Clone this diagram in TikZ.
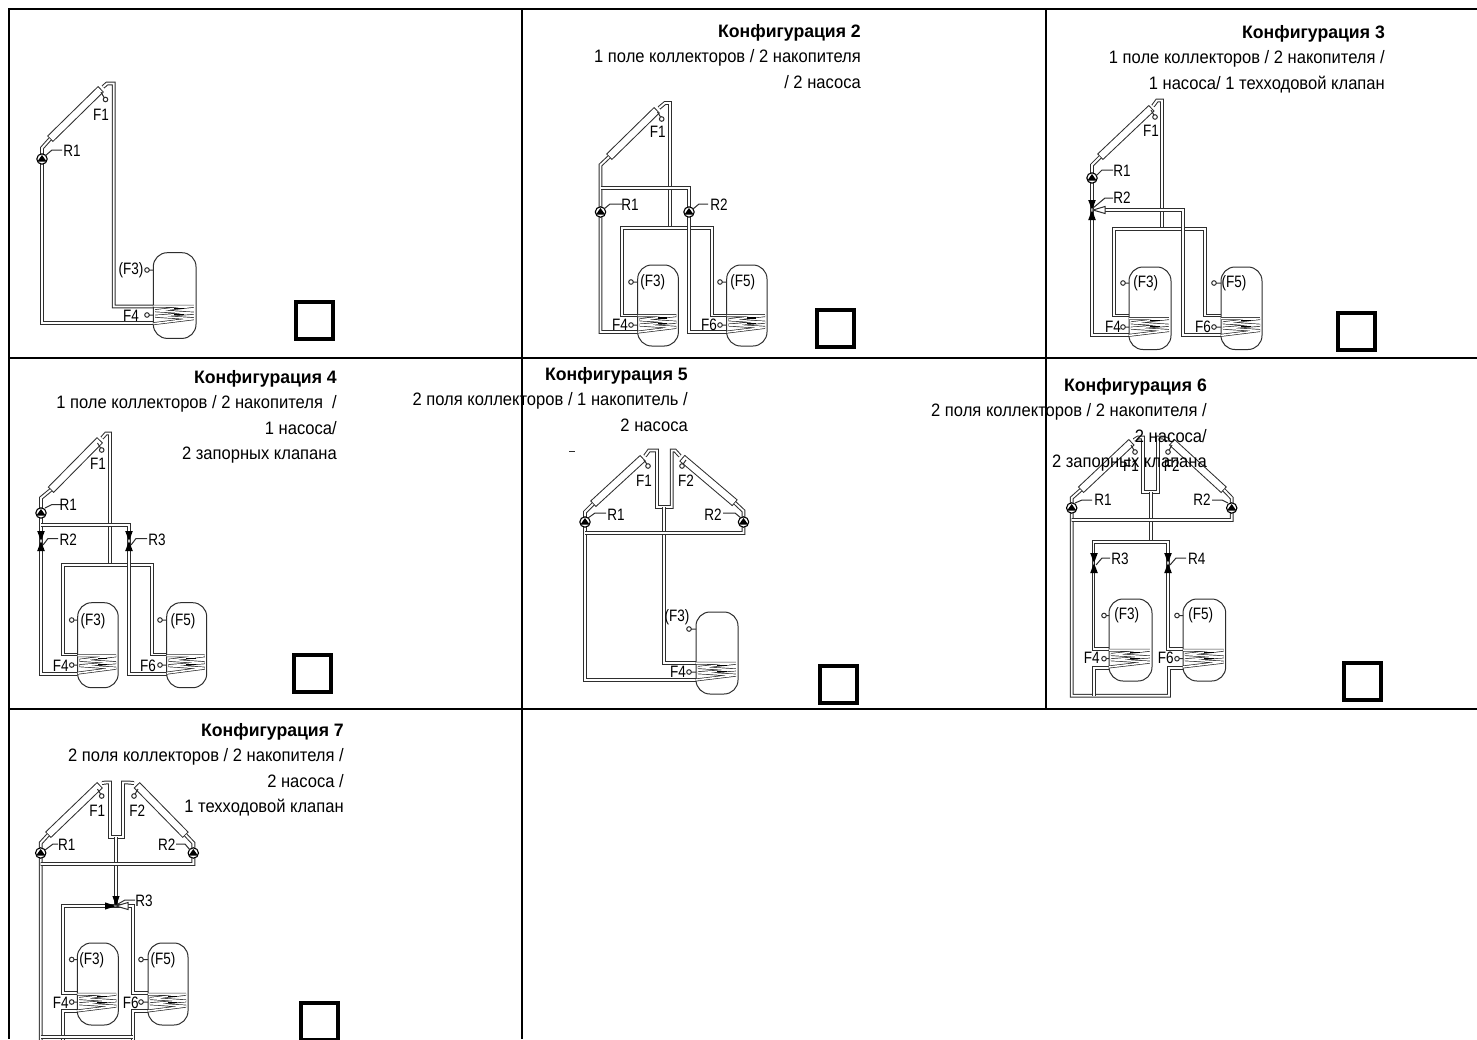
\documentclass[tikz,border=0pt]{standalone}
\usepackage{fontspec}
\setmainfont[FakeStretch=0.92,BoldFeatures={FakeStretch=0.98}]{Liberation Sans}
\usetikzlibrary{calc}
\definecolor{pipec}{HTML}{2E2E2E}
\tikzset{
 pipe/.style={draw=pipec,line width=1pt,double=white,double distance=1.9pt,line join=miter},
 coilpipe/.style={draw=pipec,line width=0.7pt,double=white,double distance=1.5pt,line join=bevel},
 thin line/.style={draw=pipec,line width=1pt},
 lbl/.style={inner sep=0pt,font=\fontsize{16.5}{16.5}\selectfont\addfontfeature{FakeStretch=0.82}},
 head/.style={anchor=north east,align=right,inner sep=0pt,font=\fontsize{18}{25.4}\selectfont},
 grid/.style={draw=black,line width=2pt},
 box/.style={draw=black,line width=4pt},
}
\newcount\nn
\newcommand\lab[3]{\global\advance\nn by 1 \node[lbl] (n\the\nn) at (#1,#2) {#3};}
% tank: x y w h
\newcommand\tank[4]{%
 \draw[thin line,rounded corners=14pt] (#1,#2) rectangle ++(#3,#4);
 \begin{scope}[shift={(#1,#2)},xscale=#3/42.7,yscale=#4/85.7]
 \draw[coilpipe] (0,53.5)--(40.5,53.5)--(2,58)--(40.5,60.5)--(2,63.5)--(40.5,66)--(0,71);
 \fill[black] (21,55.4) rectangle (31,56.6);
 \fill[black] (21,61.4) rectangle (31,62.6);
 \end{scope}}
% sensor: x y x2
\newcommand\sens[3]{\draw[thin line] (#1,#2) circle (2.3pt) (#1+2.3,#2)--(#3,#2);}
% collector: low x y, high x y
\newcommand\coll[4]{%
 \coordinate (ca) at (#1,#2); \coordinate (cb) at (#3,#4);
 \draw[line width=8.4pt,pipec] (ca)--(cb);
 \draw[line width=6.4pt,white] ($(ca)!1pt!(cb)$)--($(cb)!1pt!(ca)$);}
\newcommand\pump[2]{%
 \draw[line width=1.1pt,fill=white] (#1,#2) circle (5.2pt);
 \fill[black] (#1-4.6,#2+2.5)--(#1+4.6,#2+2.5)--(#1,#2-4)--cycle;}
\newcommand\vvalve[2]{%
 \fill[black] (#1-3.8,#2-10)--(#1+3.8,#2-10)--(#1,#2)--cycle;
 \fill[black] (#1-3.8,#2+10)--(#1+3.8,#2+10)--(#1,#2)--cycle;}
\newcommand\sensline[6]{\draw[thin line] (#1,#2)--(#3,#4)--(#5,#6);}
\newcommand\sq[2]{\draw[box] (#1,#2) rectangle ++(37,37);}
\begin{document}
\begin{tikzpicture}[x=1pt,y=-1pt]
\useasboundingbox (0,0) rectangle (1477,1039);
\clip (0,0) rectangle (1477,1039);
\fill[white] (0,0) rectangle (1477,1039);
% table
\draw[grid] (1477,9)--(9,9)--(9,1039);
\draw[grid] (9,358)--(1477,358);
\draw[grid] (9,709)--(1477,709);
\draw[grid] (522,9)--(522,1039);
\draw[grid] (1046,9)--(1046,709);

% ---- panel 1
\coll{50}{139}{101}{89}
\draw[pipe] (103,87)--(107,83.5)--(113.7,83.5)--(113.7,306.5)--(153.3,306.5);
\draw[pipe] (50,139)--(42,148)--(42,323)--(153.3,323);
\pump{42}{159}
\tank{153.3}{252.7}{42.7}{85.7}
\sens{147}{270}{153.3}\sens{147}{315}{153.3}
\draw[thin line] (105.5,99.5) circle (2.3pt) (101,92)--(104.2,97.8);
\sensline{45}{156}{52}{150}{62}{150}
\lab{101}{115}{F1}\lab{72}{151}{R1}\lab{131}{270}{(F3)}\lab{131}{316}{F4}
\sq{296}{302}

% ---- panel 2
\node[head] (h2) at (861,24) {\textbf{Конфигурация 2}\\1 поле коллекторов / 2 накопителя\\/ 2 насоса};
\coll{609}{157}{657}{110}
\draw[pipe] (659,108)--(665,103)--(670,103)--(670,228);
\draw[pipe] (637.7,315.5)--(622,315.5)--(622,228)--(712,228)--(712,315.5)--(726.7,315.5);
\draw[pipe] (609,157)--(600.5,165)--(600.5,332)--(637.7,332);
\draw[pipe] (600.5,188)--(689,188)--(689,332)--(726.7,332);
\pump{600.5}{212}\pump{689}{212}
\tank{637.7}{265}{40.7}{81}\tank{726.7}{265}{40.3}{81}
\sens{631}{282}{637.7}\sens{720}{282}{726.7}\sens{631}{325}{637.7}\sens{720}{325}{726.7}
\draw[thin line] (661.7,119) circle (2.3pt) (657.5,112)--(660.7,117.2);
\sensline{604}{209}{610}{204}{622}{204}
\sensline{693}{209}{699}{204}{708}{204}
\lab{657.7}{132}{F1}\lab{630}{205}{R1}\lab{719}{205}{R2}\lab{652.7}{282}{(F3)}\lab{742.7}{282}{(F5)}\lab{620}{325}{F4}\lab{709}{325}{F6}
\sq{817}{310}

% ---- panel 3
\node[head] (h3) at (1385,25) {\textbf{Конфигурация 3}\\1 поле коллекторов / 2 накопителя /\\1 насоса/ 1 техходовой клапан};
\coll{1100}{157}{1151.7}{108}
\draw[pipe] (1153,106)--(1157,100.5)--(1162,100.5)--(1162,228);
\draw[pipe] (1129,315.5)--(1114,315.5)--(1114,229)--(1205,229)--(1205,315.5)--(1221,315.5);
\draw[pipe] (1100,157)--(1092,165)--(1092,335)--(1129,335);
\draw[pipe] (1100,210)--(1183,210)--(1183,335)--(1221,335);
\pump{1092}{178}\vvalve{1092}{210}
\draw[thin line,fill=white] (1105,206.5)--(1105,213.5)--(1093,210)--cycle;
\tank{1129}{267}{42}{82.5}\tank{1221}{267}{41}{82.5}
\sens{1123}{283}{1129}\sens{1214}{283}{1221}\sens{1123}{327}{1129}\sens{1214}{327}{1221}
\draw[thin line] (1155,117) circle (2.3pt) (1151,110)--(1154,115.2);
\sensline{1096}{176}{1102}{170}{1113}{170}
\sensline{1093}{208}{1105}{198}{1113}{198}
\lab{1151}{131}{F1}\lab{1122}{171}{R1}\lab{1122}{198}{R2}\lab{1145.7}{283}{(F3)}\lab{1234}{283}{(F5)}\lab{1113}{327}{F4}\lab{1203}{327}{F6}
\sq{1338}{313}

% ---- panel 4
\node[head] (h4) at (337,370) {\textbf{Конфигурация 4}\\1 поле коллекторов / 2 накопителя\ \ /\\1 насоса/\\2 запорных клапана};
\coll{50.7}{490}{100}{440}
\draw[pipe] (102,438)--(106,433.5)--(110,433.5)--(110,565);
\draw[pipe] (77.7,654.5)--(62.7,654.5)--(62.7,565)--(152,565)--(152,654.5)--(166.7,654.5);
\draw[pipe] (50.7,490)--(41,498)--(41,674)--(77.7,674);
\draw[pipe] (41,525)--(129,525)--(129,674)--(166.7,674);
\pump{41}{513}\vvalve{41}{541}\vvalve{129}{541}
\tank{77.7}{602.7}{40.5}{85}\tank{166.7}{602.7}{40}{85}
\sens{71.7}{620}{77.7}\sens{160}{620}{166.7}\sens{71.7}{665}{77.7}\sens{160}{665}{166.7}
\draw[thin line] (101.7,450) circle (2.3pt) (97.5,443)--(100.7,448.2);
\sensline{45}{508}{52}{504.5}{61}{504.5}
\sensline{43}{545}{48}{538.5}{58}{538.5}
\sensline{131}{545}{136}{538.5}{147}{538.5}
\lab{98}{464}{F1}\lab{68.3}{505}{R1}\lab{68.3}{540}{R2}\lab{157}{540}{R3}\lab{93}{621}{(F3)}\lab{183}{621}{(F5)}\lab{60.7}{666}{F4}\lab{148}{666}{F6}
\sq{293.5}{654.5}

% ---- panel 5
\node[head] (h5) at (688,367) {\textbf{Конфигурация 5}\\2 поля коллекторов / 1 накопитель /\\2 насоса};
\draw[thin line] (569,451)--(575,451);
\coll{593}{504}{643}{458}
\coll{735}{503}{682}{458}
\draw[pipe] (645,456)--(649,450.5)--(657,450.5)--(657,507)--(671.7,507)--(671.7,450.5)--(675,450.5)--(680,456);
\draw[pipe] (664,507)--(664,663)--(696,663);
\draw[pipe] (593,504)--(585,512)--(585,680)--(696,680);
\draw[pipe] (735,503)--(743.5,511)--(743.5,533)--(585,533);
\pump{585}{522}\pump{743.5}{522}
\tank{696}{612}{42}{82}
\sens{689}{629}{696}\sens{689}{672}{696}
\draw[thin line] (648,466) circle (2.3pt) (644,460)--(647,464.2);
\draw[thin line] (682,466) circle (2.3pt) (686,460)--(683,464.2);
\sensline{588}{518}{595}{513}{606}{513}
\sensline{741}{518}{735}{513}{723}{513}
\lab{644}{481}{F1}\lab{686}{481}{F2}\lab{616}{515}{R1}\lab{713}{515}{R2}\lab{677}{617}{(F3)}\lab{678}{672}{F4}
\sq{820}{665.5}

% ---- panel 6
\coll{1080.7}{490}{1131.7}{442}
\coll{1224}{490}{1171.7}{442}
\draw[pipe] (1134,440)--(1138,437.5)--(1143,437.5)--(1143,492)--(1158,492)--(1158,437.5)--(1163,437.5)--(1169,440);
\draw[pipe] (1150.7,492)--(1150.7,542);
\draw[pipe] (1109,649)--(1093.5,649)--(1093.5,542)--(1167.7,542)--(1167.7,649)--(1183,649);
\draw[pipe] (1080.7,490)--(1071.7,498)--(1071.7,695.7)--(1169,695.7)--(1169,668)--(1183,668);
\draw[pipe] (1224,490)--(1231.7,498)--(1231.7,520)--(1071.7,520);
\draw[pipe] (1094,695.7)--(1094,668)--(1109,668);
\pump{1071.7}{508}\pump{1231.7}{508}
\vvalve{1094}{563}\vvalve{1168}{563}
\tank{1109}{599}{43}{82}\tank{1183}{599}{42.7}{82}
\sens{1104}{615.5}{1109}\sens{1177}{615.5}{1183}\sens{1104}{658.7}{1109}\sens{1177}{658.7}{1183}
\draw[thin line] (1135,452) circle (2.3pt) (1131,445)--(1134,450.2);
\draw[thin line] (1168,452) circle (2.3pt) (1172,445)--(1169,450.2);
\sensline{1075}{503}{1082}{500}{1092}{500}
\sensline{1228}{503}{1222}{500}{1212}{500}
\sensline{1096}{565}{1102}{558}{1110}{558}
\sensline{1170}{565}{1176}{558}{1186}{558}
\lab{1131}{466}{F1}\lab{1171.7}{466}{F2}\lab{1103}{500}{R1}\lab{1202}{500}{R2}\lab{1120}{559}{R3}\lab{1196.7}{559}{R4}\lab{1126.7}{615}{(F3)}\lab{1200.7}{615}{(F5)}\lab{1091.7}{658}{F4}\lab{1165.7}{658}{F6}
\node[head] (h6) at (1207,378) {\textbf{Конфигурация 6}\\2 поля коллекторов / 2 накопителя /\\2 насоса/\\2 запорных клапана};
\sq{1344}{663}

% ---- panel 7
\node[head] (h7) at (344,723) {\textbf{Конфигурация 7}\\2 поля коллекторов / 2 накопителя /\\2 насоса /\\1 техходовой клапан};
\coll{48}{835}{100}{785}
\coll{185.7}{835}{136.7}{785}
\draw[pipe] (102,783)--(106,782.5)--(110,782.5)--(110,837)--(123,837)--(123,782.5)--(128,782.5)--(134,783);
\draw[pipe] (116,837)--(116,906);
\draw[pipe] (48,835)--(40.7,843)--(40.7,1045);
\draw[pipe] (185.7,835)--(193.3,843)--(193.3,864)--(40.7,864);
\draw[pipe] (116,906)--(62.7,906)--(62.7,993)--(77.3,993);
\draw[pipe] (116,906)--(132.7,906)--(132.7,993)--(148,993);
\draw[pipe] (77.3,1011)--(62.7,1011)--(62.7,1045);
\draw[pipe] (148,1011)--(132.7,1011)--(132.7,1045);
\draw[pipe] (40.7,1037)--(132.7,1037);
\pump{40.7}{853}\pump{193.3}{853}
\fill[black] (112.4,896)--(119.6,896)--(116,906)--cycle;
\fill[black] (105,902.4)--(105,909.6)--(116,906)--cycle;
\draw[thin line,fill=white] (128,902.5)--(128,909.5)--(116,906)--cycle;
\tank{77.3}{943}{41}{82}\tank{148}{943}{40}{82}
\sens{71.7}{959.5}{77.3}\sens{141}{959.5}{148}\sens{71.7}{1002}{77.3}\sens{141}{1002}{148}
\draw[thin line] (101.7,796) circle (2.3pt) (97.5,789)--(100.7,794.2);
\draw[thin line] (134,796) circle (2.3pt) (138,789)--(135,794.2);
\sensline{45}{850}{53}{844}{58}{844}
\sensline{190}{850}{185}{844}{176}{844}
\sensline{118}{904}{125}{900}{135}{900}
\lab{97.3}{811}{F1}\lab{137.3}{811}{F2}\lab{66.7}{845}{R1}\lab{166.7}{845}{R2}\lab{144}{900.7}{R3}\lab{91.7}{960}{(F3)}\lab{163}{960}{(F5)}\lab{60.7}{1003}{F4}\lab{130.7}{1003}{F6}
\sq{301}{1003}
\end{tikzpicture}
\end{document}
